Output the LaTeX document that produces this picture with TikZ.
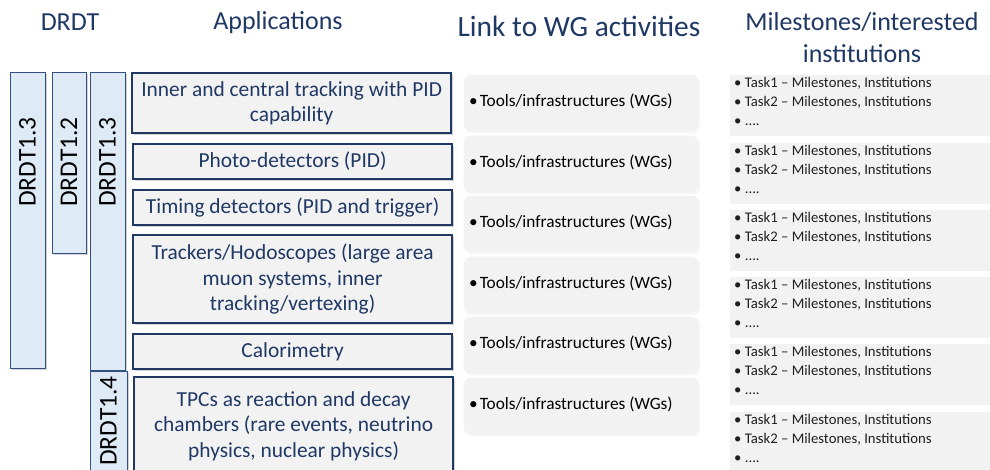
\documentclass[tikz,border=0pt]{standalone}
\usepackage{fontspec}
\setmainfont{Carlito}
\usetikzlibrary{shadows}
\definecolor{navy}{HTML}{1F3864}
\definecolor{barfill}{HTML}{DEEBF7}
\definecolor{barline}{HTML}{34507F}
\definecolor{boxfill}{HTML}{F2F2F2}
\begin{document}
\begin{tikzpicture}[x=1pt,y=-1pt,
  header/.style={text=navy, font=\fontsize{26}{32}\selectfont, align=center, inner sep=0pt},
  bar/.style={draw=barline, line width=1.3pt, fill=barfill, anchor=north west, inner sep=0pt,
    drop shadow={shadow xshift=1.2pt, shadow yshift=-1.2pt, opacity=0.35}},
  bartext/.style={rotate=90, font=\fontsize{25.5}{30}\selectfont, inner sep=0pt, text=black},
  appbox/.style={draw=navy, line width=2.2pt, fill=boxfill, anchor=north west, inner sep=0pt,
    text=navy, align=center, font=\fontsize{21.4}{25.5}\selectfont, minimum width=319pt,
    drop shadow={shadow xshift=1.5pt, shadow yshift=-1.5pt, opacity=0.35}},
  linkbox/.style={rounded corners=8pt, fill=boxfill, draw=white, line width=0.6pt, anchor=north west,
    minimum width=236pt, minimum height=58pt, inner sep=0pt,
    drop shadow={shadow xshift=0.8pt, shadow yshift=-0.8pt, opacity=0.15}},
  linktext/.style={anchor=west, font=\fontsize{17.3}{20}\selectfont, inner sep=0pt, text=black},
  msbox/.style={fill=boxfill, draw=white, line width=0.6pt, anchor=north west, inner sep=0pt,
    minimum width=266pt, minimum height=62pt},
  mstext/.style={anchor=north west, align=left, font=\fontsize{14.7}{18.6}\selectfont, inner sep=0pt, text=black!88}
]
\useasboundingbox (0,0) rectangle (990,470);
\fill[white] (0,0) rectangle (990,470);
\clip (0,0) rectangle (990,470);

% headers
\node[header] (hdrdt) at (70,22) {DRDT};
\node[header] (happ) at (278,23) {Applications};
\node[header, font=\fontsize{29.4}{34}\selectfont] (hlink) at (579,26) {Link to WG activities};
\node[header] (hms) at (862,38) {Milestones/interested\\institutions};

% DRDT bars
\node[bar, minimum width=35pt, minimum height=296pt] (b1) at (10,72) {};
\node[bar, minimum width=34pt, minimum height=181pt] (b2) at (52,72) {};
\node[bar, minimum width=35pt, minimum height=298pt] (b3) at (90,72) {};
\node[bar, minimum width=37pt, minimum height=110pt] (b4) at (90,371) {};
\node[bartext] (b1t) at (27.5,162) {DRDT1.3};
\node[bartext] (b2t) at (69,162) {DRDT1.2};
\node[bartext] (b3t) at (107.5,162) {DRDT1.3};
\node[bartext] (b4t) at (108.5,421) {DRDT1.4};

% application boxes
\node[appbox, minimum height=60pt] (a1) at (131,72) {Inner and central tracking with PID\\capability};
\node[appbox, minimum height=35pt] (a2) at (132,143) {Photo-detectors (PID)};
\node[appbox, minimum height=35pt] (a3) at (132,189) {Timing detectors (PID and trigger)};
\node[appbox, minimum height=88pt] (a4) at (132,234) {Trackers/Hodoscopes (large area\\muon systems, inner\\tracking/vertexing)};
\node[appbox, minimum height=35pt] (a5) at (132,333) {Calorimetry};
\node[appbox, minimum height=98pt] (a6) at (133,376) {TPCs as reaction and decay\\chambers (rare events, neutrino\\physics, nuclear physics)};

% link boxes
\foreach \i/\t in {1/74,2/135,3/195,4/256,5/316,6/377}{
  \node[linkbox] (l\i) at (463,\t) {};
  \node[linktext] (l\i t) at (469,\t+27) {\textbullet\hspace{2pt}Tools/infrastructures (WGs)};
}

% milestone boxes
\foreach \i/\t in {1/74,2/142,3/209,4/276,5/343,6/411}{
  \node[msbox] (m\i) at (729,\t) {};
  \node[mstext] (m\i t) at (734,\t+3.5) {\textbullet\ Task1 – Milestones, Institutions\\\textbullet\ Task2 – Milestones, Institutions\\\textbullet\ ....};
}
\end{tikzpicture}
\end{document}
